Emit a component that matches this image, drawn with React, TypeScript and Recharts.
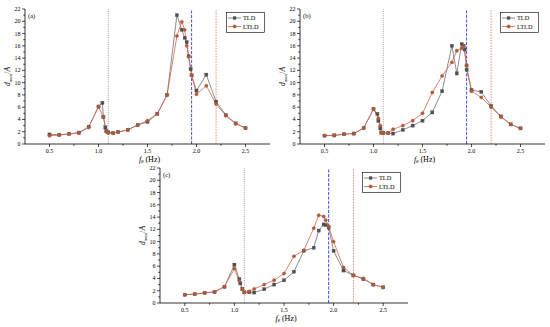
import React from 'react';
import { LineChart, Line, XAxis, YAxis, ReferenceLine, Legend, Customized } from 'recharts';

const FONT = '"Liberation Serif", "Times New Roman", serif';

// Axis ticks
const xTicks = [0.5, 0.75, 1, 1.25, 1.5, 1.75, 2, 2.25, 2.5];
const yTicks = [0, 1, 2, 3, 4, 5, 6, 7, 8, 9, 10, 11, 12, 13, 14, 15, 16, 17, 18, 19, 20, 21, 22];
const xDomain = [0.25, 2.75];
const yDomain = [0, 22];

// Reference frequencies (vertical lines)
const refGray = 1.1;
const refBlue = 1.95;
const refRed = 2.2;

// Panel (a)
const tldAX = [0.5, 0.6, 0.7, 0.8, 0.9, 1.0, 1.04, 1.05, 1.07, 1.08, 1.1, 1.15, 1.2, 1.3, 1.4, 1.5, 1.6, 1.7, 1.8, 1.85, 1.88, 1.9, 1.92, 1.94, 1.95, 2.0, 2.1, 2.2, 2.3, 2.4, 2.5];
const tldAY = [1.55, 1.5, 1.65, 1.85, 2.8, 6.1, 6.7, 4.4, 2.7, 2.1, 1.9, 1.8, 1.95, 2.3, 3.1, 3.6, 4.9, 8.0, 21.0, 18.6, 17.3, 16.6, 14.3, 12.2, 11.2, 8.7, 11.3, 6.9, 4.7, 3.35, 2.6];
const ltldAX = [0.5, 0.6, 0.7, 0.8, 0.9, 1.0, 1.05, 1.08, 1.1, 1.15, 1.2, 1.3, 1.4, 1.5, 1.6, 1.7, 1.8, 1.85, 1.88, 1.9, 1.92, 1.95, 2.0, 2.1, 2.2, 2.3, 2.4, 2.5];
const ltldAY = [1.35, 1.45, 1.65, 1.8, 2.7, 6.1, 4.4, 2.0, 1.8, 1.75, 1.95, 2.3, 3.1, 3.8, 4.95, 8.0, 17.6, 19.9, 18.6, 16.0, 14.2, 11.2, 8.1, 9.5, 6.5, 4.6, 3.3, 2.6];

// Panel (b)
const tldBX = [0.5, 0.6, 0.7, 0.8, 0.9, 1.0, 1.04, 1.05, 1.07, 1.08, 1.1, 1.15, 1.2, 1.3, 1.4, 1.5, 1.6, 1.7, 1.8, 1.85, 1.9, 1.92, 1.93, 1.95, 1.95, 2.0, 2.1, 2.2, 2.3, 2.4, 2.5];
const tldBY = [1.35, 1.4, 1.6, 1.7, 2.6, 5.7, 4.9, 3.8, 2.55, 1.85, 1.8, 1.8, 1.7, 2.3, 3.0, 3.8, 5.15, 8.6, 16.0, 11.5, 16.3, 16.0, 15.4, 12.8, 12.1, 8.8, 8.5, 6.2, 4.5, 3.2, 2.55];
const ltldBX = [0.5, 0.6, 0.7, 0.8, 0.9, 1.0, 1.05, 1.07, 1.08, 1.1, 1.15, 1.2, 1.3, 1.4, 1.5, 1.6, 1.7, 1.8, 1.85, 1.9, 1.92, 1.95, 2.0, 2.1, 2.2, 2.3, 2.4, 2.5];
const ltldBY = [1.4, 1.4, 1.6, 1.7, 2.6, 5.7, 4.2, 3.0, 1.9, 1.75, 1.75, 2.4, 3.0, 3.8, 5.0, 8.4, 11.1, 13.3, 15.2, 15.6, 15.9, 12.8, 8.6, 7.6, 6.0, 4.4, 3.2, 2.55];

// Panel (c)
const tldCX = [0.5, 0.6, 0.7, 0.8, 0.9, 1.0, 1.05, 1.06, 1.08, 1.1, 1.15, 1.2, 1.3, 1.4, 1.5, 1.6, 1.7, 1.8, 1.85, 1.9, 1.92, 1.95, 2.0, 2.1, 2.2, 2.3, 2.4, 2.5];
const tldCY = [1.35, 1.45, 1.65, 1.8, 2.65, 6.25, 3.9, 3.2, 2.3, 1.75, 1.75, 1.7, 2.25, 3.0, 3.7, 5.1, 8.5, 9.0, 11.8, 12.8, 12.7, 12.3, 8.5, 5.3, 4.5, 3.9, 3.0, 2.55];
const ltldCX = [0.5, 0.6, 0.7, 0.8, 0.9, 1.0, 1.05, 1.08, 1.1, 1.15, 1.2, 1.3, 1.4, 1.5, 1.6, 1.7, 1.8, 1.85, 1.9, 1.92, 1.95, 2.0, 2.1, 2.2, 2.3, 2.4, 2.5];
const ltldCY = [1.35, 1.45, 1.65, 1.8, 2.65, 5.6, 3.6, 2.2, 1.7, 1.9, 2.3, 3.0, 3.7, 4.8, 7.6, 8.6, 12.2, 14.3, 14.1, 13.5, 12.5, 10.0, 5.8, 4.5, 4.0, 3.0, 2.55];

const seriesNames = ['TLD', 'LTLD'];

const TLD_LINE = '#707070';
const TLD_MARK = '#4f4f4f';
const LTLD_LINE = '#d4654c';
const LTLD_MARK = '#b05a3a';

const zip = (xs: number[], ys: number[]) => xs.map((x, i) => ({ x, y: ys[i] }));

const isMajorX = (v: number) => Math.abs(v * 2 - Math.round(v * 2)) < 1e-6;
const isMajorY = (v: number) => v % 2 === 0;

const BottomTick = (p: any) => {
  const v = p.payload.value;
  const major = isMajorX(v);
  return (
    <g>
      <line x1={p.x} x2={p.x} y1={p.y} y2={p.y + (major ? 3 : 1.8)} stroke="#000" strokeWidth={0.7} />
      {major && (
        <text x={p.x} y={p.y + 8.7} textAnchor="middle" fontSize={6} fontFamily={FONT} fill="#000">
          {v.toFixed(1)}
        </text>
      )}
    </g>
  );
};
const TopTick = (p: any) => {
  const major = isMajorX(p.payload.value);
  return <line x1={p.x} x2={p.x} y1={p.y} y2={p.y - (major ? 3 : 1.8)} stroke="#000" strokeWidth={0.7} />;
};
const LeftTick = (p: any) => {
  const v = p.payload.value;
  const major = isMajorY(v);
  return (
    <g>
      <line x1={p.x} x2={p.x - (major ? 3 : 1.8)} y1={p.y} y2={p.y} stroke="#000" strokeWidth={0.7} />
      {major && (
        <text x={p.x - 4.5} y={p.y + 2} textAnchor="end" fontSize={6} fontFamily={FONT} fill="#000">
          {v}
        </text>
      )}
    </g>
  );
};
const RightTick = (p: any) => {
  const major = isMajorY(p.payload.value);
  return <line x1={p.x} x2={p.x + (major ? 3 : 1.8)} y1={p.y} y2={p.y} stroke="#000" strokeWidth={0.7} />;
};

const squareDot = (color: string) => (props: any) => {
  const { cx, cy, index } = props;
  if (cx == null || cy == null) return <g key={`s-${index}`} />;
  return <rect key={`s-${index}`} x={cx - 1.6} y={cy - 1.6} width={3.2} height={3.2} fill={color} stroke={color} strokeWidth={0.3} />;
};

const LegendBox = () => (
  <svg width={39} height={21} style={{ display: 'block' }}>
    <rect x={0.5} y={0.5} width={38} height={20} fill="#fff" stroke="#000" strokeWidth={0.6} />
    <line x1={2} x2={15} y1={6} y2={6} stroke={TLD_LINE} strokeWidth={0.8} />
    <rect x={7} y={4.4} width={3.2} height={3.2} fill={TLD_MARK} />
    <text x={17} y={8.2} fontSize={6.3} fontFamily={FONT} fill="#000">{seriesNames[0]}</text>
    <line x1={2} x2={15} y1={14.5} y2={14.5} stroke={LTLD_LINE} strokeWidth={0.8} />
    <circle cx={8.6} cy={14.5} r={1.8} fill={LTLD_MARK} stroke={LTLD_MARK} strokeWidth={0.3} />
    <text x={17} y={16.7} fontSize={6.3} fontFamily={FONT} fill="#000">{seriesNames[1]}</text>
  </svg>
);

type PanelProps = {
  left: number; top: number; width: number; height: number;
  margin: { top: number; right: number; bottom: number; left: number };
  yAxisWidth: number; xAxisHeight: number;
  tld: { x: number; y: number }[]; ltld: { x: number; y: number }[];
  tag: string; legendLeft: number; legendTop: number;
};

const Panel = (pp: PanelProps) => {
  const plotLeft = pp.margin.left + pp.yAxisWidth;
  const plotTop = pp.margin.top;
  const plotW = pp.width - plotLeft - pp.margin.right;
  const plotH = pp.height - pp.margin.top - pp.margin.bottom - pp.xAxisHeight;
  const plotBottom = plotTop + plotH;
  return (
    <div style={{ position: 'absolute', left: pp.left, top: pp.top }}>
      <LineChart width={pp.width} height={pp.height} margin={pp.margin}>
        <XAxis xAxisId="b" type="number" dataKey="x" domain={xDomain} ticks={xTicks} interval={0}
          allowDataOverflow height={pp.xAxisHeight} tickSize={0} tickMargin={0} tickLine={false}
          tick={BottomTick} axisLine={{ stroke: '#000', strokeWidth: 0.8 }} />
        <XAxis xAxisId="t" orientation="top" type="number" dataKey="x" domain={xDomain} ticks={xTicks} interval={0}
          allowDataOverflow height={0} tickSize={0} tickMargin={0} tickLine={false}
          tick={TopTick} axisLine={{ stroke: '#000', strokeWidth: 0.8 }} />
        <YAxis yAxisId="l" type="number" domain={yDomain} ticks={yTicks} interval={0} allowDataOverflow
          width={pp.yAxisWidth} tickSize={0} tickMargin={0} tickLine={false} tick={LeftTick}
          axisLine={{ stroke: '#000', strokeWidth: 0.8 }} />
        <YAxis yAxisId="r" orientation="right" type="number" domain={yDomain} ticks={yTicks} interval={0} allowDataOverflow
          width={0} tickSize={0} tickMargin={0} tickLine={false} tick={RightTick}
          axisLine={{ stroke: '#000', strokeWidth: 0.8 }} />
        <ReferenceLine xAxisId="b" yAxisId="l" x={refGray} stroke="#8a8a8a" strokeWidth={0.8} strokeDasharray="1 1.2" />
        <ReferenceLine xAxisId="b" yAxisId="l" x={refBlue} stroke="#4a4af0" strokeWidth={1} strokeDasharray="3 1.5" />
        <ReferenceLine xAxisId="b" yAxisId="l" x={refRed} stroke="#c97a5e" strokeWidth={0.8} strokeDasharray="1.5 1.2" />
        <Line xAxisId="b" yAxisId="l" data={pp.tld} dataKey="y" name={seriesNames[0]} stroke={TLD_LINE} strokeWidth={0.8}
          dot={squareDot(TLD_MARK)} isAnimationActive={false} />
        <Line xAxisId="b" yAxisId="l" data={pp.ltld} dataKey="y" name={seriesNames[1]} stroke={LTLD_LINE} strokeWidth={0.8}
          dot={{ r: 1.7, fill: LTLD_MARK, stroke: LTLD_MARK, strokeWidth: 0.3 }} isAnimationActive={false} />
        <Legend layout="horizontal" verticalAlign="middle" align="center" content={() => <LegendBox />}
          wrapperStyle={{ left: pp.legendLeft, top: pp.legendTop, width: 39, height: 21, bottom: 'auto', right: 'auto' }} />
        <Customized component={() => (
          <g>
            <text x={plotLeft + 3} y={plotTop + 9} fontSize={6.5} fontFamily={FONT} fill="#000">{pp.tag}</text>
            <text x={plotLeft + plotW / 2 + 2} y={plotBottom + 17.5} textAnchor="middle" fontSize={8} fontFamily={FONT} fill="#000">
              <tspan fontStyle="italic">f</tspan>
              <tspan fontSize={5.2} dy={1.8}>e</tspan>
              <tspan dy={-1.8}> (Hz)</tspan>
            </text>
            <text transform={`translate(${plotLeft - 15}, ${plotTop + plotH / 2}) rotate(-90)`} textAnchor="middle"
              fontSize={7.5} fontFamily={FONT} fill="#000">
              <tspan fontStyle="italic">d</tspan>
              <tspan fontSize={5} dy={1.8}>max</tspan>
              <tspan dy={-1.8}>/</tspan>
              <tspan fontStyle="italic">A</tspan>
            </text>
          </g>
        )} />
      </LineChart>
    </div>
  );
};

export default function App() {
  return (
    <div style={{ position: 'absolute', left: 0, top: 0, width: 550, height: 327, background: '#fff', overflow: 'hidden' }}>
      <Panel left={0} top={0} width={275} height={165} margin={{ top: 9, right: 5, bottom: 0, left: 0 }}
        yAxisWidth={25} xAxisHeight={21} tld={zip(tldAX, tldAY)} ltld={zip(ltldAX, ltldAY)} tag="(a)"
        legendLeft={226} legendTop={12} />
      <Panel left={275} top={0} width={275} height={165} margin={{ top: 9, right: 5, bottom: 0, left: 0 }}
        yAxisWidth={25} xAxisHeight={21} tld={zip(tldBX, tldBY)} ltld={zip(ltldBX, ltldBY)} tag="(b)"
        legendLeft={225} legendTop={12} />
      <Panel left={135} top={160} width={280} height={167} margin={{ top: 8, right: 7, bottom: 0, left: 0 }}
        yAxisWidth={25} xAxisHeight={24} tld={zip(tldCX, tldCY)} ltld={zip(ltldCX, ltldCY)} tag="(c)"
        legendLeft={227} legendTop={12} />
    </div>
  );
}
